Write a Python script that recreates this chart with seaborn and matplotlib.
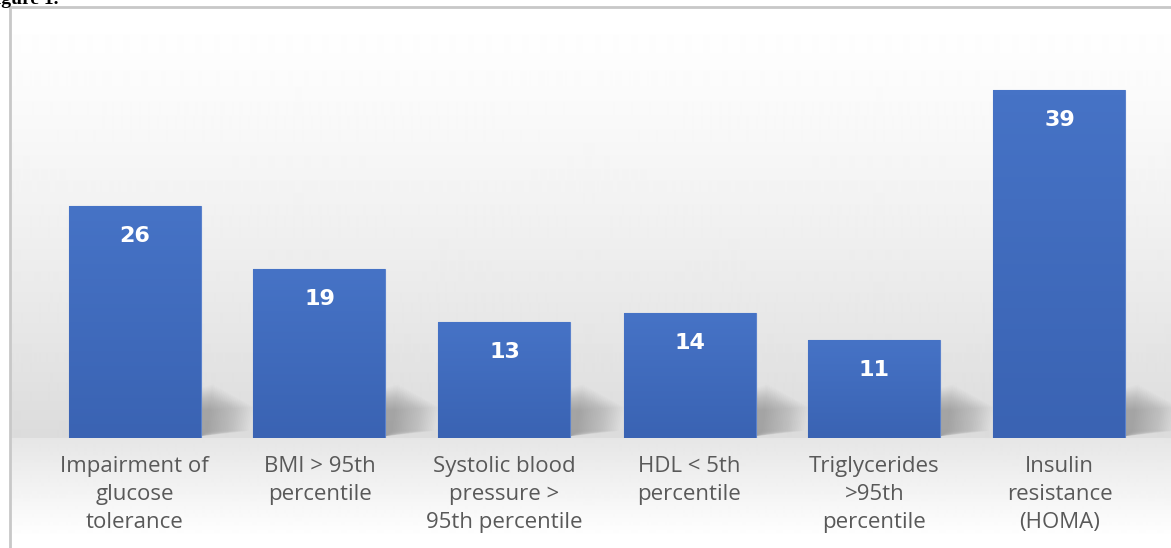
import numpy as np
import matplotlib
matplotlib.use("Agg")
import matplotlib.pyplot as plt
import seaborn as sns
from matplotlib.colors import LinearSegmentedColormap

categories = ["Impairment of\nglucose\ntolerance",
              "BMI > 95th\npercentile",
              "Systolic blood\npressure >\n95th percentile",
              "HDL < 5th\npercentile",
              "Triglycerides\n>95th\npercentile",
              "Insulin\nresistance\n(HOMA)"]
values = [26, 19, 13, 14, 11, 39]

W, H = 1171, 548
sns.set_theme(style="white")
plt.rcParams['font.family'] = ['Open Sans', 'DejaVu Sans']

fig = plt.figure(figsize=(W / 100, H / 100), dpi=100)
fig.patch.set_facecolor("white")

# background frame with gradient
bg = fig.add_axes([10 / W, 0, 1 - 10 / W, (H - 7) / H], zorder=0)
ys = np.linspace(0, 1, 541)  # 0 at top (y=7) -> 1 at bottom (y=548)
px = 7 + ys * 541
col = np.ones_like(px)
top_part = px <= 438
col[top_part] = 1.0 - 0.14 * ((px[top_part] - 7) / 431) ** 1.3
bot = ~top_part
col[bot] = 0.90 + 0.10 * np.clip((px[bot] - 438) / 100, 0, 1)
img = np.repeat(col[:, None], 2, axis=1)
bg.imshow(img, cmap="gray", vmin=0, vmax=1, aspect="auto", extent=[0, 1, 0, 1],
          interpolation="bilinear")
bg.set_xlim(0, 1)
bg.set_ylim(0, 1)
bg.set_xticks([])
bg.set_yticks([])
for s in ["right", "bottom"]:
    bg.spines[s].set_visible(False)
for s in ["left", "top"]:
    bg.spines[s].set_color("#c8c8c8")
    bg.spines[s].set_linewidth(2)

# main axes
ax = fig.add_axes([10 / W, (H - 438) / H, 1 - 10 / W, 431 / H], zorder=1)
ax.patch.set_alpha(0)
bar_w = 132 / 185
sns.barplot(x=categories, y=values, color="#4472c4", width=bar_w, ax=ax,
            saturation=1, edgecolor="#5b82cc", linewidth=0.8, zorder=3)
ax.set_xlim((10 - 134.5) / 185, (1171 - 134.5) / 185)
ax.set_ylim(0, 431 / 8.92)
for s in ax.spines.values():
    s.set_visible(False)
ax.set_yticks([])
ax.set_ylabel("")
ax.set_xlabel("")

# gradient fill for bars + soft shadows
grad = LinearSegmentedColormap.from_list("g", ["#3a63b3", "#4673c6"])
for p, v in zip(ax.patches, values):
    x0, w = p.get_x(), p.get_width()
    im = ax.imshow(np.linspace(0, 1, 64)[:, None], cmap=grad, origin="lower",
                   extent=[x0, x0 + w, 0, v], aspect="auto", zorder=3.1)
    im.set_clip_path(p)
    xr = x0 + w
    n = 24
    for k in range(n):
        f = k / (n - 1)
        dx = 0.04 + 0.22 * f
        ax.fill([xr, xr + dx, xr + dx + 0.03, xr],
                [0.2, 0.8, 6.0 - 2.5 * f, 5.6 - 2.5 * f],
                color="#5a5a5a", alpha=0.02, lw=0, zorder=2)
    ax.text(x0 + w / 2, v - 3.4, str(v), ha="center", va="center",
            color="white", fontsize=16, fontweight="bold", zorder=5,
            family="DejaVu Sans")

ax.set_xticks(range(len(categories)))
ax.set_xticklabels(categories)
ax.tick_params(axis="x", length=0, pad=13, labelsize=16, labelcolor="#595959")
for t in ax.get_xticklabels():
    t.set_linespacing(1.43)

fig.text(-16 / W, 1 - 4 / H, "Figure 1.", fontsize=14, fontweight="bold",
         family="Liberation Serif", color="black", va="baseline", ha="left")

fig.savefig("out.png", dpi=100)
